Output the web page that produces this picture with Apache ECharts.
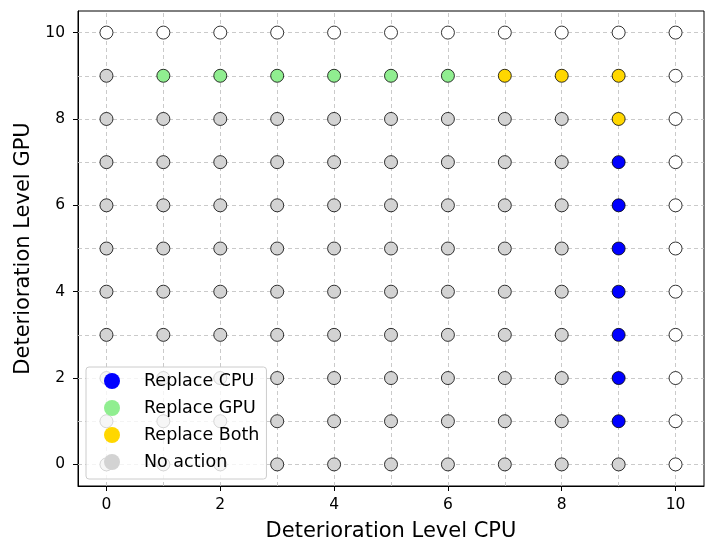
<!DOCTYPE html>
<html>
<head>
<meta charset="utf-8">
<script src="https://cdn.jsdelivr.net/npm/echarts@6/dist/echarts.min.js"></script>
<style>
  html, body { margin: 0; padding: 0; background: #fff; }
  #chart { width: 705px; height: 540px; }
</style>
</head>
<body>
<div id="chart"></div>
<script>
// action per state, rows from GPU level 10 down to 0, columns CPU level 0..10
// W = outside (white), N = no action, C = replace CPU, G = replace GPU, B = replace both
const gpuLevels = [10, 9, 8, 7, 6, 5, 4, 3, 2, 1, 0]
const cpuLevels = [0, 1, 2, 3, 4, 5, 6, 7, 8, 9, 10]
const actionRows = [
  'WWWWWWWWWWW',
  'NGGGGGGBBBW',
  'NNNNNNNNNBW',
  'NNNNNNNNNCW',
  'NNNNNNNNNCW',
  'NNNNNNNNNCW',
  'NNNNNNNNNCW',
  'NNNNNNNNNCW',
  'NNNNNNNNNCW',
  'NNNNNNNNNCW',
  'NNNNNNNNNNW',
]
const legendNames = ['Replace CPU', 'Replace GPU', 'Replace Both', 'No action']
const actionCodes = ['C', 'G', 'B', 'N']
const actionColors = ['#0000ff', '#90ee90', '#ffd700', '#d3d3d3']
const tickValues = [0, 2, 4, 6, 8, 10]
const gridValues = [0, 1, 2, 3, 4, 5, 6, 7, 8, 9, 10]

const font = '"DejaVu Sans", sans-serif'

function pointsFor(code) {
  const pts = []
  actionRows.forEach((row, r) => {
    row.split('').forEach((c, i) => {
      if (c === code) pts.push([cpuLevels[i], gpuLevels[r]])
    })
  })
  return pts
}

const scatterBase = {
  type: 'scatter',
  symbolSize: 13,
  z: 3,
  animation: false,
  itemStyle: { borderColor: '#000', borderWidth: 0.8, opacity: 1 },
}

// grid lines at every integer, drawn under the points
const series = [{
  type: 'scatter',
  data: [],
  z: 1,
  silent: true,
  markLine: {
    z: 1,
    silent: true,
    animation: false,
    symbol: 'none',
    label: { show: false },
    lineStyle: { color: '#c4c4c4', width: 0.9, type: [4, 3] },
    data: gridValues.map(v => ({ xAxis: v })).concat(gridValues.map(v => ({ yAxis: v }))),
  },
}]

actionCodes.forEach((code, i) => {
  series.push({ ...scatterBase, name: legendNames[i], data: pointsFor(code), itemStyle: { ...scatterBase.itemStyle, color: actionColors[i] } })
})
series.push({ ...scatterBase, name: 'outside', data: pointsFor('W'), itemStyle: { ...scatterBase.itemStyle, color: '#ffffff' } })

const axisBase = {
  type: 'value',
  min: -0.5,
  max: 10.5,
  nameLocation: 'middle',
  nameTextStyle: { fontFamily: font, fontSize: 21, color: '#000' },
  axisLine: { show: true, onZero: false, lineStyle: { color: '#000', width: 1 } },
  axisTick: { show: true, length: 5, customValues: tickValues, lineStyle: { color: '#000' } },
  axisLabel: { customValues: tickValues, fontFamily: font, fontSize: 15.5, color: '#000' },
  splitLine: { show: false },
}

const chart = echarts.init(document.getElementById('chart'))
chart.setOption({
  animation: false,
  grid: {
    left: 78, right: 1, top: 11, bottom: 54,
    containLabel: false, outerBoundsMode: 'none',
    show: true, borderColor: '#000', borderWidth: 1, backgroundColor: 'transparent',
  },
  xAxis: { ...axisBase, name: 'Deterioration Level CPU', nameGap: 35, axisLabel: { ...axisBase.axisLabel, margin: 11 } },
  yAxis: { ...axisBase, name: 'Deterioration Level GPU', nameGap: 43, axisLabel: { ...axisBase.axisLabel, margin: 13 } },
  legend: {
    data: legendNames,
    orient: 'vertical',
    left: 86,
    top: 367,
    padding: [5, 7, 8, 18],
    itemGap: 9,
    itemWidth: 16,
    itemHeight: 16,
    icon: 'circle',
    itemStyle: { borderWidth: 0 },
    backgroundColor: 'rgba(255,255,255,0.8)',
    borderColor: '#cccccc',
    borderWidth: 1,
    borderRadius: 3,
    textStyle: { fontFamily: font, fontSize: 17.5, color: '#000', padding: [0, 0, 0, 19] },
  },
  series: series,
})
</script>
</body>
</html>
